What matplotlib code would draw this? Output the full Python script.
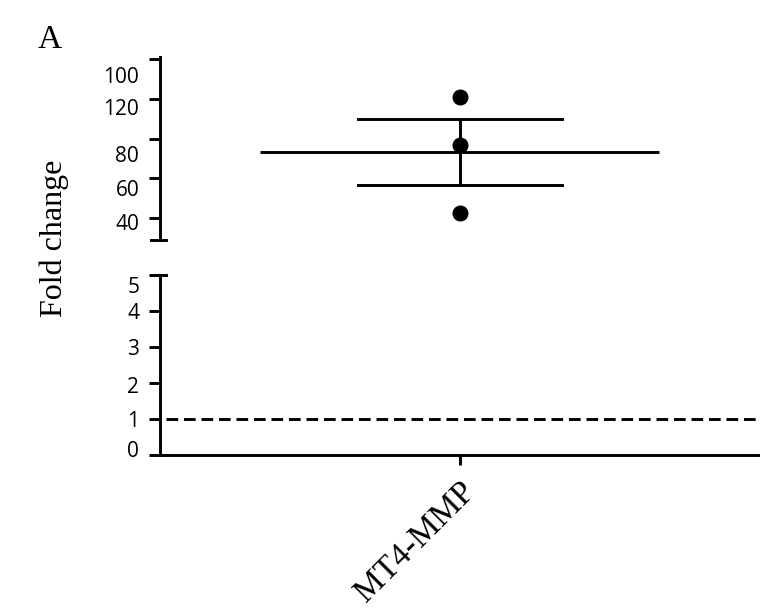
import numpy as np
import matplotlib.pyplot as plt
from matplotlib.transforms import ScaledTranslation

# data
category = ['MT4-MMP']
fold_values = [100.7, 76.5, 42.5]
fold_mean = np.mean(fold_values)
fold_err = 16.6
baseline = 1

top_ticks = [40, 60, 80, 100, 120]
top_ticklabels = ['40', '60', '80', '120', '100']
bottom_ticks = [0, 1, 2, 3, 4, 5]

serif = ['Liberation Serif', 'DejaVu Serif']
sans = ['Open Sans', 'DejaVu Sans']

fig = plt.figure(figsize=(7.6, 6.11), dpi=100)
ax_top = fig.add_axes([0.2105, 0.607, 0.789, 0.300])
ax_bot = fig.add_axes([0.2105, 0.255, 0.789, 0.295])

lw = 2.1
for ax in (ax_top, ax_bot):
    for s in ('top', 'right'):
        ax.spines[s].set_visible(False)
    ax.spines['left'].set_linewidth(lw)
    ax.spines['bottom'].set_linewidth(lw)
    ax.set_xlim(-0.5, 0.5)
    ax.tick_params(axis='y', direction='out', length=8, width=lw, pad=7)

ax_top.spines['bottom'].set_visible(False)
ax_top.set_xticks([])
ax_top.set_ylim(29, 121)
ax_top.set_yticks(top_ticks)
ax_top.set_yticklabels(top_ticklabels, family=sans, fontsize=15)

# the labels sit a bit below their ticks in the original (pixels down)
top_shift = [4, 10, 15, 8, 16]
for lab, d in zip(ax_top.get_yticklabels(), top_shift):
    lab.set_transform(lab.get_transform() + ScaledTranslation(0, -d / 100, fig.dpi_scale_trans))

# mean line, error bar and points
x0 = 0
ax_top.plot([x0 - 0.333, x0 + 0.333], [fold_mean, fold_mean], color='black', lw=lw,
            solid_capstyle='butt')
ax_top.errorbar([x0], [fold_mean], yerr=[fold_err], fmt='none', ecolor='black',
                elinewidth=lw, capsize=0)
for yv in (fold_mean - fold_err, fold_mean + fold_err):
    ax_top.plot([x0 - 0.17, x0 + 0.17], [yv, yv], color='black', lw=lw)
ax_top.plot([x0] * len(fold_values), fold_values, 'o', color='black', ms=10.5)

# broken axis end caps
ax_top.plot([-0.015, 0.01], [0, 0], transform=ax_top.transAxes, color='black',
            lw=lw, clip_on=False)
ax_bot.plot([-0.015, 0.01], [1, 1], transform=ax_bot.transAxes, color='black',
            lw=lw, clip_on=False)

ax_bot.set_ylim(0, 5)
ax_bot.set_yticks(bottom_ticks)
ax_bot.set_yticklabels([str(t) for t in bottom_ticks], family=sans, fontsize=15)
bot_shift = [-6, 0, 2, 0, 0, 10]
for lab, d in zip(ax_bot.get_yticklabels(), bot_shift):
    lab.set_transform(lab.get_transform() + ScaledTranslation(0, -d / 100, fig.dpi_scale_trans))

ax_bot.axhline(baseline, xmin=0.01, xmax=1, color='black', lw=lw,
               linestyle=(0, (4, 2)))
ax_bot.set_xticks([x0])
ax_bot.set_xticklabels(category, rotation=45, ha='right', rotation_mode='anchor',
                       family=serif, fontsize=24)
ax_bot.tick_params(axis='x', direction='out', length=7, width=lw, pad=8)

fig.text(0.072, 0.61, 'Fold change', rotation=90, family=serif, fontsize=23,
         ha='center', va='center')
fig.text(0.05, 0.935, 'A', family=serif, fontsize=24, ha='left', va='center')

fig.savefig('out.png', dpi=100)
